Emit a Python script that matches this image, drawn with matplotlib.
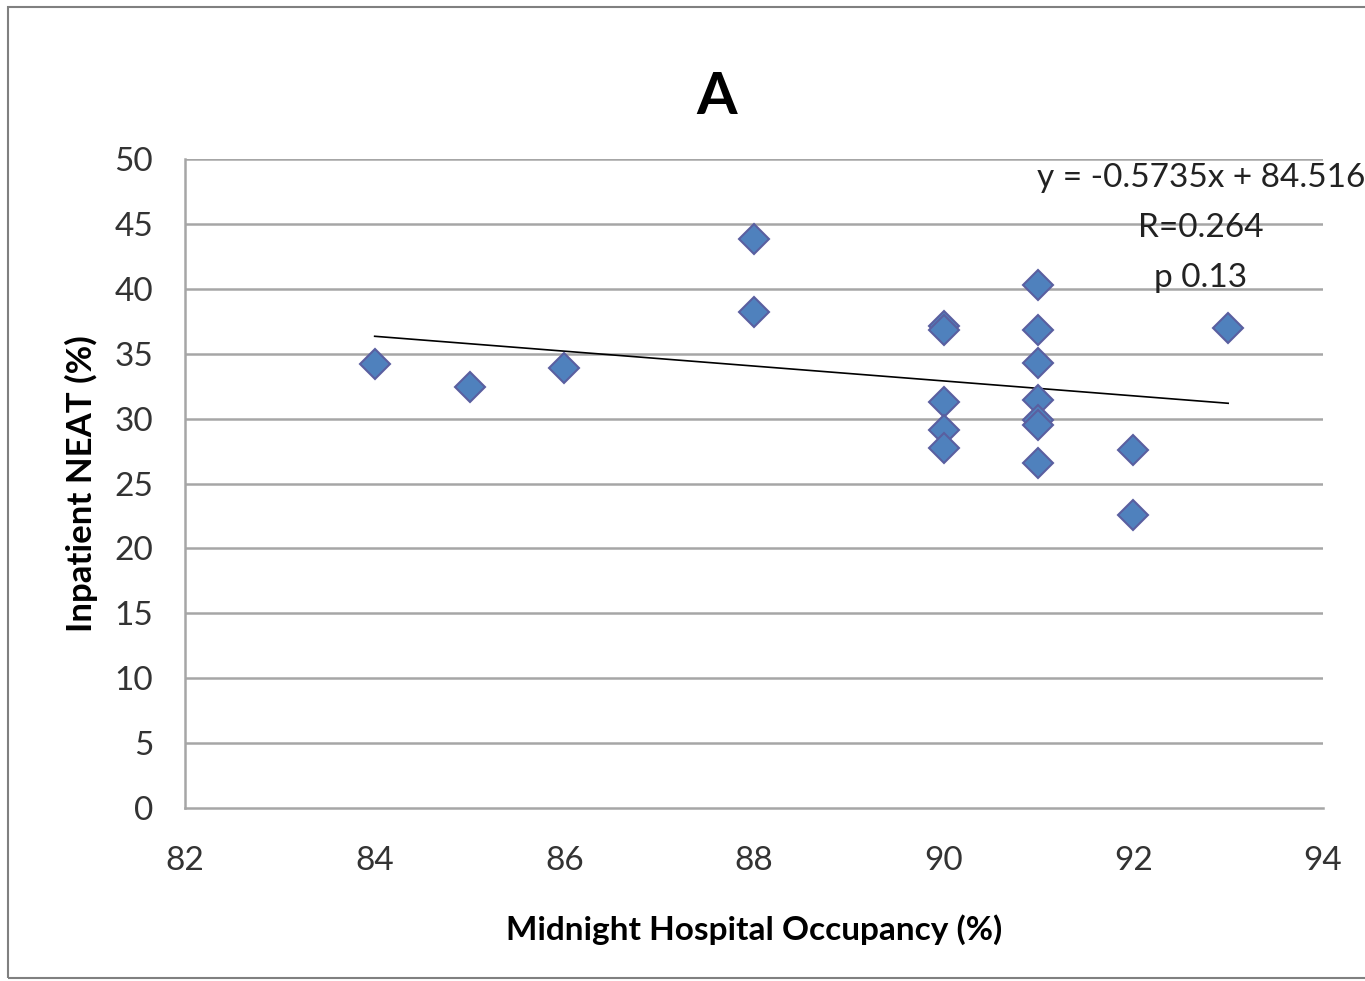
import matplotlib
matplotlib.use("Agg")
import matplotlib.pyplot as plt
from matplotlib.patches import Rectangle
import numpy as np

occupancy = [84, 85, 86, 88, 88, 90, 90, 90, 90, 90, 91, 91, 91, 91, 91, 91, 91, 92, 92, 93]
neat = [34.2, 32.4, 33.9, 43.8, 38.2, 37.1, 36.8, 31.3, 29.1, 27.7,
        40.3, 36.8, 34.3, 31.4, 29.9, 29.5, 26.6, 27.6, 22.6, 37.0]
slope = -0.5735
intercept = 84.516
trend_x = [84, 93]
x_ticks = [82, 84, 86, 88, 90, 92, 94]
y_ticks = [0, 5, 10, 15, 20, 25, 30, 35, 40, 45, 50]
annot_lines = ["y = -0.5735x + 84.516", "R=0.264", "p 0.13"]

plt.rcParams['font.family'] = ['Lato', 'DejaVu Sans']

fig = plt.figure(figsize=(13.65, 9.81), dpi=100)
ax = fig.add_axes([185/1365, 1-808/981, (1323-185)/1365, (808-159)/981])

for yv in y_ticks[1:]:
    ax.axhline(yv, color='#a6a6a6', lw=1.8, zorder=1)

tx = np.array(trend_x, dtype=float)
ax.plot(tx, slope*tx + intercept, color='black', lw=1.2, zorder=2)

ax.plot(occupancy, neat, linestyle='none', marker='D', ms=15, mfc='#4F81BD',
        mec='#5A5FA0', mew=1.5, zorder=3)

ax.set_xlim(82, 94)
ax.set_ylim(0, 50)
ax.set_xticks(x_ticks)
ax.set_yticks(y_ticks)
ax.tick_params(axis='both', length=0, labelsize=24, colors='#333333')
ax.tick_params(axis='y', pad=23)
ax.tick_params(axis='x', pad=27)
for s in ['top', 'right']:
    ax.spines[s].set_visible(False)
for s in ['left', 'bottom']:
    ax.spines[s].set_color('#a6a6a6')
    ax.spines[s].set_linewidth(1.8)

ax.set_xlabel("Midnight Hospital Occupancy (%)", fontsize=24, fontweight='bold', labelpad=28)
ax.set_ylabel("Inpatient NEAT (%)", fontsize=25, fontweight='bold', labelpad=12)

fig.text(717/1365, 1-97/981, "A", ha='center', va='center', fontsize=42, fontweight='bold')

for i, t in enumerate(annot_lines):
    fig.text(1201/1365, 1-(178+50*i)/981, t, ha='center', va='center', fontsize=24, color='#222222')

fig.patches.append(Rectangle((8/1365, 1-978/981), 1.2, (978-7)/981, transform=fig.transFigure,
                             fill=False, edgecolor='#808080', lw=1.5))

fig.savefig("out.png", dpi=100)
